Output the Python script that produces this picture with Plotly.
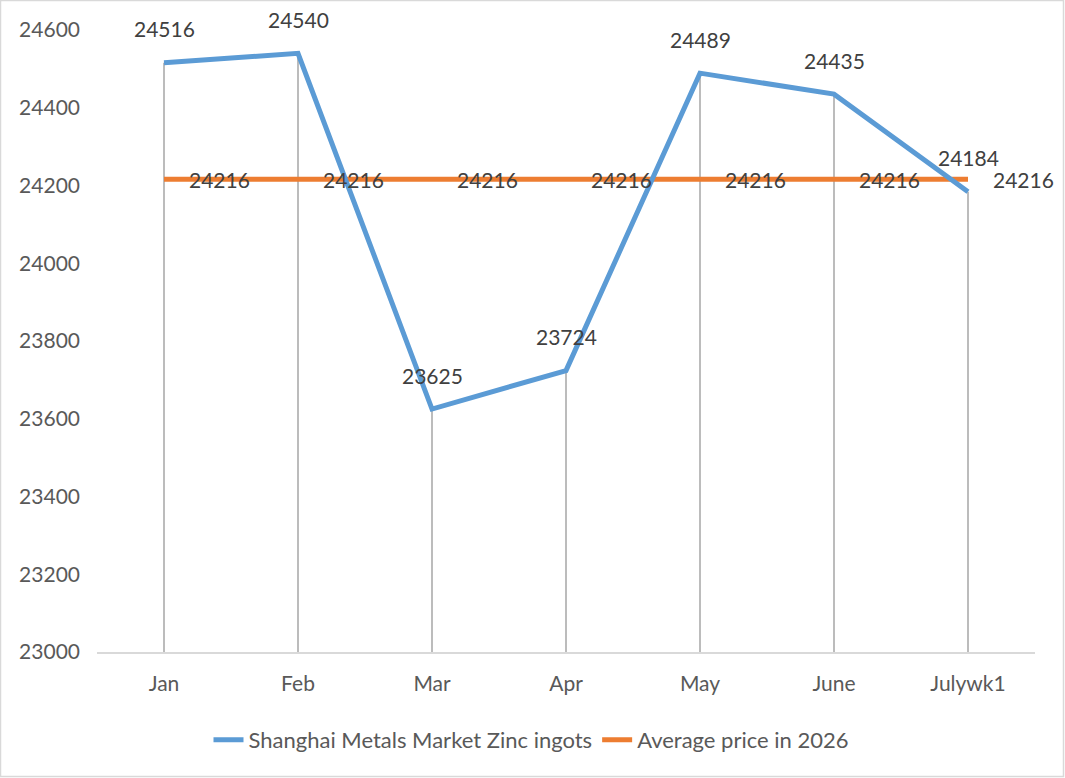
import plotly.graph_objects as go

months = ["Jan", "Feb", "Mar", "Apr", "May", "June", "Julywk1"]
zinc_prices = [24516, 24540, 23625, 23724, 24489, 24435, 24184]
avg_price = [24216, 24216, 24216, 24216, 24216, 24216, 24216]
y_ticks = [23000, 23200, 23400, 23600, 23800, 24000, 24200, 24400, 24600]
y_tick_labels = [str(t) for t in y_ticks]

FONT = "Lato"
BLUE = "#5b9bd5"
ORANGE = "#ed7d31"
Y_MIN, Y_MAX = 23000, 24600

fig = go.Figure()

# drop lines from each point down to the axis
drop_x, drop_y = [], []
for m, v in zip(months, zinc_prices):
    drop_x += [m, m, None]
    drop_y += [Y_MIN, v, None]
fig.add_trace(go.Scatter(x=drop_x, y=drop_y, mode="lines",
                         line=dict(color="#a6a6a6", width=1.5),
                         showlegend=False, hoverinfo="skip"))

fig.add_trace(go.Scatter(x=months, y=avg_price, mode="lines",
                         name="Average price in 2026",
                         line=dict(color=ORANGE, width=5)))
fig.add_trace(go.Scatter(x=months, y=zinc_prices, mode="lines",
                         name="Shanghai Metals Market Zinc ingots",
                         line=dict(color=BLUE, width=5)))

# data labels
for m, v in zip(months, zinc_prices):
    fig.add_annotation(x=m, y=v, text=str(v), showarrow=False,
                       yshift=34, font=dict(family=FONT, size=21, color="#404040"))
for m, v in zip(months, avg_price):
    fig.add_annotation(x=m, y=v, text=str(v), showarrow=False,
                       xanchor="left", xshift=23,
                       font=dict(family=FONT, size=21, color="#404040"))

W, H = 1065, 778
L, R, T, B = 97, 30, 30, 126
pw, ph = W - L - R, H - T - B
fig.add_shape(type="rect", xref="paper", yref="paper",
              x0=(0.5 - L) / pw, x1=(W - 1.5 - L) / pw,
              y0=-(B - 1.5) / ph, y1=1 + (T - 0.5) / ph,
              line=dict(color="#d9d9d9", width=1.5), layer="below")

fig.update_layout(
    width=W, height=H,
    margin=dict(l=L, r=R, t=T, b=B),
    paper_bgcolor="white", plot_bgcolor="white",
    font=dict(family=FONT, size=21, color="#595959"),
    xaxis=dict(type="category", range=[-0.5, len(months) - 0.5],
               showgrid=False, showline=True, linecolor="#d9d9d9", linewidth=2,
               ticks="", ticklabelstandoff=12, zeroline=False),
    yaxis=dict(range=[Y_MIN, Y_MAX], tickvals=y_ticks, ticktext=y_tick_labels,
               showgrid=False, showline=False, zeroline=False, ticks="",
               ticklabelstandoff=16),
    legend=dict(orientation="h", x=(531 - L) / pw, xanchor="center",
                y=-88 / ph, yanchor="middle", traceorder="reversed",
                font=dict(family=FONT, size=22, color="#595959")),
    showlegend=True,
)

fig.write_html("out.html")
